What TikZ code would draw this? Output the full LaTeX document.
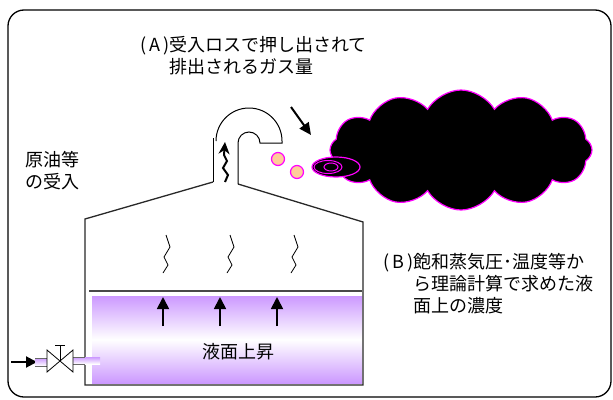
\documentclass[tikz,border=0pt]{standalone}
\usepackage{fontspec}
\newfontfamily\jpfont{Noto Sans CJK JP}
\usetikzlibrary{arrows.meta,shapes.symbols}
\definecolor{liquid}{RGB}{204,153,255}
\definecolor{bubble}{RGB}{255,204,153}
\definecolor{fume}{RGB}{255,0,255}
\definecolor{steel}{RGB}{40,40,40}
% thin wavy line of vapour rising from the surface
\def\vapour(#1,#2){\draw[vapour] (#1,#2) -- ++(4,12) -- ++(-6,10) -- ++(4,8) -- ++(-5,8);}

\begin{document}
\begin{tikzpicture}[x=1pt,y=-1pt,
    wall/.style={draw=steel,line width=1.3pt},
    jptext/.style={font=\jpfont\fontsize{18}{22}\selectfont,inner sep=0pt,align=left},
    vapour/.style={line width=0.8pt},
    lift/.style={line width=1.8pt,-{Triangle[length=12pt,width=12pt]}},
    puff/.style={draw=fume,line width=1.2pt,fill=bubble}]
	%%%%% START %%%%%
	\useasboundingbox (0,0) rectangle (613,399);
	\draw[line width=1.3pt,rounded corners=16pt] (8,10) rectangle (611,397);
	
	% liquid in the tank
	\shade[top color=liquid,bottom color=liquid,middle color=white] (92,296) rectangle (362,383);
	\draw[draw=steel!85,line width=1.5pt] (89,291) -- (362,291);
	
	% tank shell and roof
	\draw[wall] (213,182) -- (85,219) -- (85,385) -- (363,385) -- (363,222) -- (238,184);
	
	% vent pipe
	\draw[line width=1pt] (213,182) -- (213,138);
	\draw[line width=1pt] (216,141) arc[start angle=180,end angle=360,radius=33] -- (282,143) -- (260,143)
		arc[start angle=0,end angle=-180,radius=11] -- (238,184);
	\draw[line width=2pt,-{Stealth[length=12pt,width=11pt]}] (225,182) -- (228,175) -- (223,168) -- (227,161) -- (224,155) -- (225,142);
	
	% gas leaving the vent
	\draw[puff] (278,159) circle[radius=6.5];
	\draw[puff] (297,172) circle[radius=6.5];
	\node[cloud,cloud puffs=12,cloud puff arc=120,aspect=2.2,minimum width=262pt,minimum height=120pt,
		inner sep=0pt,fill=black,draw=fume,line width=1.2pt] (smog) at (461,150) {};
	\draw[fume,fill=black,line width=1.2pt] (336,167) ellipse[x radius=24,y radius=10];
	\draw[fume,line width=1pt] (328,167) ellipse[x radius=14,y radius=6.5];
	\draw[fume,line width=1pt] (331,167) ellipse[x radius=7,y radius=4];
	\coordinate (pt1) at (291,107);
	\coordinate (pt2) at (311,135);
	\draw[line width=2pt,-{Triangle[length=12pt,width=11pt]}] (pt1) -- (pt2);
	
	% vapour over the surface, level rising
	\vapour(166,235)
	\vapour(230,235)
	\vapour(294,235)
	\foreach \x in {163,220,277}
		\draw[lift] (\x,326) -- (\x,297);
	
	% inlet line with valve
	\coordinate (in1) at (11,362);
	\coordinate (in2) at (37,362);
	\draw[line width=2pt,-{Triangle[length=11pt,width=11pt]}] (in1) -- (in2);
	\shade[top color=liquid,bottom color=white] (35,358) rectangle (47,366);
	\draw[steel!70] (35,358) -- (47,358) (35,366) -- (47,366);
	\shade[top color=liquid,bottom color=white] (73,357) rectangle (100,364);
	\draw[steel!70] (73,357) -- (85,357) (73,364) -- (85,364);
	\draw[fill=white,line width=0.8pt] (47,350) -- (73,372) -- (73,350) -- (47,372) -- cycle;
	\draw[line width=0.8pt] (60,361) -- (60,345) (55,345) -- (65,345);
	
	% texts
	\node[jptext,anchor=north west] (lossA) at (140,36) {(\,A\,)受入ロスで押し出されて\\\phantom{(\,A\,)}排出されるガス量};
	\node[jptext,anchor=north west] (crude) at (25,151) {原油等\\の受入};
	\node[jptext,anchor=north west] (concB) at (383,253) {(\,B\,)飽和蒸気圧･温度等か\\\phantom{(\,B\,)}ら理論計算で求めた液\\\phantom{(\,B\,)}面上の濃度};
	\node[jptext] (level) at (238,352) {液面上昇};
	%%%%% END %%%%%
\end{tikzpicture}
\end{document}
